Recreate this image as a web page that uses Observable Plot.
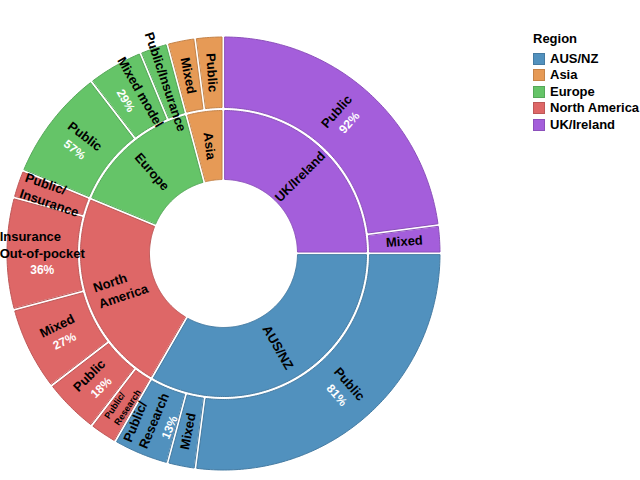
<!DOCTYPE html>
<html><head><meta charset="utf-8">
<script src="https://cdn.jsdelivr.net/npm/d3@7"></script>
<script src="https://cdn.jsdelivr.net/npm/@observablehq/plot@0.6"></script>
<style>
body{margin:0;background:#fff;font-family:"Liberation Sans",Arial,sans-serif;}
#wrap{position:relative;width:640px;height:480px;overflow:hidden;}
#legend{position:absolute;left:533px;top:31px;font-weight:bold;font-size:13px;color:#000;line-height:16.5px;}
#legend .title{margin-bottom:3px;}
#legend .row{display:flex;align-items:center;height:16.5px;white-space:nowrap;}
#legend .sw{width:10px;height:10px;margin-right:5px;border:1px solid;}
</style></head><body><div id="wrap"><div id="legend"></div></div><script>
// ---- data ----
const regions = ["UK/Ireland", "AUS/NZ", "North America", "Europe", "Asia"];
const regionLabels = ["UK/Ireland", "AUS/NZ", "North\nAmerica", "Europe", "Asia"];
const regionColors = ["#a45edb", "#5191be", "#de6767", "#65c468", "#e69a56"];

const segRegion = ["UK/Ireland", "UK/Ireland",
  "AUS/NZ", "AUS/NZ", "AUS/NZ",
  "North America", "North America", "North America", "North America", "North America",
  "Europe", "Europe", "Europe",
  "Asia", "Asia"];
const segFunding = ["Public", "Mixed",
  "Public", "Mixed", "Public/Research",
  "Public/Research", "Public", "Mixed", "Insurance Out-of-pocket", "Public/Insurance",
  "Public", "Mixed model", "Public/Insurance",
  "Mixed", "Public"];
const segLabels = ["Public", "Mixed",
  "Public", "Mixed", "Public/\nResearch",
  "Public/\nResearch", "Public", "Mixed", "Insurance\nOut-of-pocket", "Public/\nInsurance",
  "Public", "Mixed model", "Public/Insurance",
  "Mixed", "Public"];
const segCounts = [11, 1, 13, 1, 2, 1, 2, 3, 4, 1, 4, 2, 1, 1, 1];

// ---- layout ----
const W = 640, H = 480, CX = 223, CY = 253;
const R0 = 72.5, R1 = 144.5, R2 = 218;
const PAD = 1.5;
const FONT = '"Liberation Sans", Arial, sans-serif';
const smallLabels = new Set(["North America|Public/Research"]);

const colorOf = new Map(regions.map((r, i) => [r, regionColors[i]]));
const strokeOf = r => d3.color(colorOf.get(r)).darker(0.45).formatHex();
const total = d3.sum(segCounts);
const DEG = 360 / total;

const inner = [];
let acc = 0;
regions.forEach((r, i) => {
  const c = d3.sum(segCounts.filter((_, j) => segRegion[j] === r));
  inner.push({id: "in|" + r, region: r, a0: acc * DEG, a1: (acc + c) * DEG, r0: R0, r1: R1,
    label: regionLabels[i], pct: null, size: 13});
  acc += c;
});
const outer = [];
regions.forEach(r => {
  const reg = inner.find(d => d.region === r);
  let a = reg.a0;
  const regTotal = d3.sum(segCounts.filter((_, j) => segRegion[j] === r));
  segRegion.forEach((sr, j) => {
    if (sr !== r) return;
    const c = segCounts[j];
    const key = r + "|" + segFunding[j];
    outer.push({id: "out|" + key, region: r, a0: a, a1: a + c * DEG, r0: R1, r1: R2,
      label: segLabels[j], pct: c >= 2 ? Math.round(100 * c / regTotal) + "%" : null,
      size: smallLabels.has(key) ? 9 : 13});
    a += c * DEG;
  });
});
const arcs = inner.concat(outer);

const toRad = Math.PI / 180;
const polyRows = [];
for (const s of arcs) {
  const ri = s.r0 + PAD, ro = s.r1 - PAD;
  const o0 = s.a0 * toRad + Math.asin(PAD / ro), o1 = s.a1 * toRad - Math.asin(PAD / ro);
  const i0 = s.a0 * toRad + Math.asin(PAD / ri), i1 = s.a1 * toRad - Math.asin(PAD / ri);
  const n = Math.max(2, Math.ceil((s.a1 - s.a0) / 0.75));
  const fill = colorOf.get(s.region), stroke = strokeOf(s.region);
  for (let k = 0; k <= n; k++) { const t = o0 + (o1 - o0) * k / n; polyRows.push({id: s.id, x: ro * Math.sin(t), y: ro * Math.cos(t), fill, stroke}); }
  for (let k = n; k >= 0; k--) { const t = i0 + (i1 - i0) * k / n; polyRows.push({id: s.id, x: ri * Math.sin(t), y: ri * Math.cos(t), fill, stroke}); }
}

const ctx = document.createElement("canvas").getContext("2d");
function textW(t, size) { ctx.font = `bold ${size}px ${FONT}`; return ctx.measureText(t).width; }
const nameRows = [], pctRows = [];
for (const s of arcs) {
  const m = (s.a0 + s.a1) / 2, r = (s.r0 + s.r1) / 2;
  const cx = r * Math.sin(m * toRad), cy = -r * Math.cos(m * toRad);
  const rot = m < 180 ? m - 90 : m - 270;
  const ux = Math.cos(rot * toRad), uy = Math.sin(rot * toRad);
  const dxv = -Math.sin(rot * toRad), dyv = Math.cos(rot * toRad);
  const lines = s.label.split("\n");
  const n = lines.length + (s.pct ? 1 : 0);
  const lh = s.size * 1.3;
  const wMax = d3.max(lines, l => textW(l, s.size));
  lines.forEach((l, i) => {
    const off = (i - (n - 1) / 2) * lh;
    const sx = cx + off * dxv - wMax / 2 * ux, sy = cy + off * dyv - wMax / 2 * uy;
    nameRows.push({x: sx, y: -sy, text: l, rotate: rot, size: s.size});
  });
  if (s.pct) {
    const off = (n - 1) / 2 * lh;
    const sx = cx + off * dxv, sy = cy + off * dyv;
    pctRows.push({x: sx, y: -sy, text: s.pct, rotate: rot});
  }
}

const chart = Plot.plot({
  width: W, height: H, margin: 0,
  x: {domain: [-CX, W - CX], range: [0, W], axis: null},
  y: {domain: [CY - H, CY], range: [H, 0], axis: null},
  color: {type: "identity"},
  style: {fontFamily: FONT, background: "white", overflow: "visible"},
  marks: [
    Plot.line(polyRows, {x: "x", y: "y", z: "id", fill: "fill", stroke: "stroke", strokeWidth: 1, curve: "linear-closed"}),
    Plot.text(nameRows, {x: "x", y: "y", text: "text", rotate: "rotate", fontSize: "size",
      textAnchor: "start", lineAnchor: "middle", fill: "black", fontWeight: "bold"}),
    Plot.text(pctRows, {x: "x", y: "y", text: "text", rotate: "rotate", fontSize: 12,
      textAnchor: "middle", lineAnchor: "middle", fill: "white", fontWeight: "bold"})
  ]
});
const wrap = document.getElementById("wrap");
wrap.insertBefore(chart, wrap.firstChild);

const lg = document.getElementById("legend");
const t = document.createElement("div"); t.className = "title"; t.textContent = "Region"; lg.appendChild(t);
d3.sort(regions).forEach(r => {
  const row = document.createElement("div"); row.className = "row";
  const sw = document.createElement("div"); sw.className = "sw";
  sw.style.background = colorOf.get(r); sw.style.borderColor = strokeOf(r);
  const tx = document.createElement("span"); tx.textContent = r;
  row.appendChild(sw); row.appendChild(tx); lg.appendChild(row);
});
</script></body></html>
